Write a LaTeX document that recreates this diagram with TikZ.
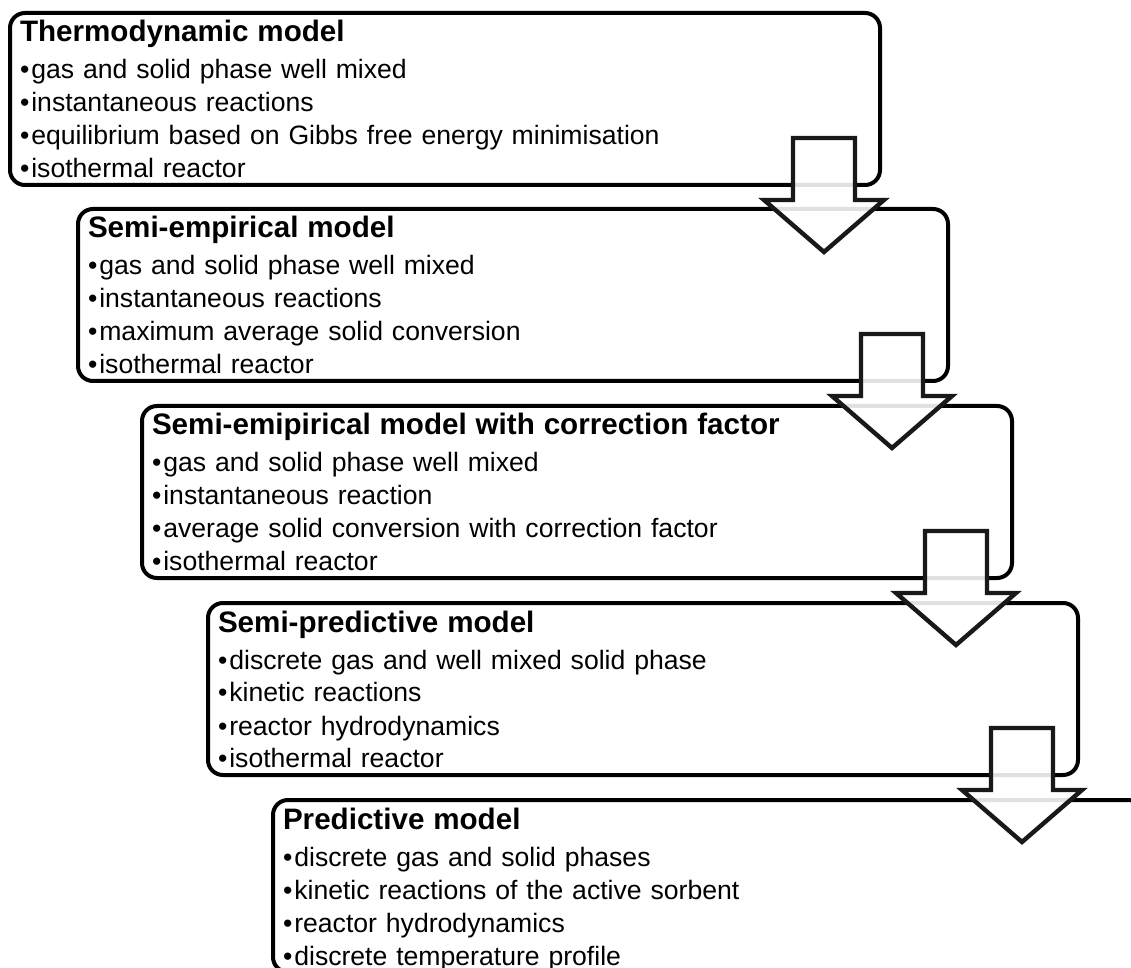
\documentclass[tikz,border=0pt]{standalone}
\usepackage{fontspec}
\setmainfont{Liberation Sans}
\usepackage{tikz}
\usetikzlibrary{positioning}
\newcommand{\modeltitle}[1]{{\fontsize{14.8pt}{16.5pt}\selectfont\bfseries #1}}
\newcommand{\itembullet}{•\hspace{1pt}}

\begin{document}
\begin{tikzpicture}[
    x=0.5pt, y=-0.5pt,
    block/.style={rectangle, draw=black, line width=2pt, rounded corners=7.5pt,
                  text width=425pt, inner xsep=5pt, inner ysep=0pt, outer sep=0pt,
                  minimum height=86pt, text height=11pt, text depth=68pt,
                  align=left, font=\fontsize{13.3pt}{16.5pt}\selectfont},
    blockarrow/.pic={
        \draw [draw=black!90, line width=2.2pt, line join=miter, fill=white, fill opacity=0.88]
            (-31,-47) -- (31,-47) -- (31,15) -- (60,15) -- (0,67) -- (-60,15) -- (-31,15) -- cycle;
    }
]
\useasboundingbox (0,0) rectangle (1131,968);
\clip (0,0) rectangle (1131,968);
\node (s1) [block, anchor=north west] at (10,13) {\modeltitle{Thermodynamic model}\\[2pt]
    \itembullet gas and solid phase well mixed\\
    \itembullet instantaneous reactions\\
    \itembullet equilibrium based on Gibbs free energy minimisation\\
    \itembullet isothermal reactor};
\node (s2) [block, below=12pt of s1.south west, anchor=north west, xshift=34pt] {\modeltitle{Semi-empirical model}\\[2pt]
    \itembullet gas and solid phase well mixed\\
    \itembullet instantaneous reactions\\
    \itembullet maximum average solid conversion\\
    \itembullet isothermal reactor};
\node (s3) [block, below=12.5pt of s2.south west, anchor=north west, xshift=32pt] {\modeltitle{Semi-emipirical model with correction factor}\\[2pt]
    \itembullet gas and solid phase well mixed\\
    \itembullet instantaneous reaction\\
    \itembullet average solid conversion with correction factor\\
    \itembullet isothermal reactor};
\node (s4) [block, below=12.5pt of s3.south west, anchor=north west, xshift=33pt] {\modeltitle{Semi-predictive model}\\[2pt]
    \itembullet discrete gas and well mixed solid phase\\
    \itembullet kinetic reactions\\
    \itembullet reactor hydrodynamics\\
    \itembullet isothermal reactor};
\node (s5) [block, below=12.5pt of s4.south west, anchor=north west, xshift=32.5pt] {\modeltitle{Predictive model}\\[2pt]
    \itembullet discrete gas and solid phases\\
    \itembullet kinetic reactions of the active sorbent\\
    \itembullet reactor hydrodynamics\\
    \itembullet discrete temperature profile};
% block arrows between the models
\path (s1.south east) ++(-56,0) pic {blockarrow};
\path (s2.south east) ++(-56,0) pic {blockarrow};
\path (s3.south east) ++(-56,0) pic {blockarrow};
\path (s4.south east) ++(-56,0) pic {blockarrow};
\end{tikzpicture}
\end{document}
